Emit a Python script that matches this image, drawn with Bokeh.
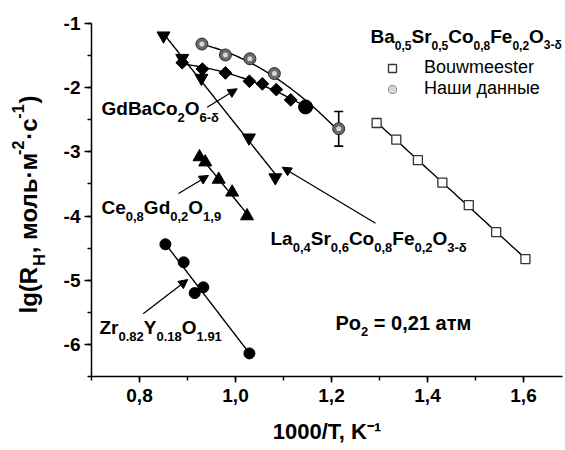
import numpy as np
from bokeh.plotting import figure
from bokeh.layouts import row, column
from bokeh.models import (ColumnDataSource, Label, Arrow, NormalHead, Whisker, TeeHead,
                          SingleIntervalTicker, CustomJSTickFormatter, Legend, LegendItem, Range1d)
from bokeh.embed import file_html
from bokeh.resources import INLINE

# ---------------- data ----------------
bouw_x = [1.294, 1.335, 1.380, 1.431, 1.486, 1.543, 1.604]
bouw_y = [-2.55, -2.81, -3.13, -3.48, -3.83, -4.25, -4.67]

bscf_x = [0.930, 0.979, 1.030, 1.081, 1.215]
bscf_y = [-1.32, -1.49, -1.55, -1.78, -2.64]
bscf_err = [0.0, 0.0, 0.0, 0.0, 0.27]

joint_x = [1.146]
joint_y = [-2.30]

gbco_x = [0.889, 0.931, 0.979, 1.029, 1.056, 1.085, 1.115]
gbco_y = [-1.61, -1.71, -1.77, -1.90, -1.94, -2.03, -2.19]

lscf_x = [0.850, 0.889, 0.929, 1.028, 1.083]
lscf_y = [-1.19, -1.54, -1.85, -2.78, -3.40]

cgo_x = [0.925, 0.937, 0.965, 0.993, 1.024]
cgo_y = [-3.08, -3.16, -3.43, -3.63, -4.00]

ysz_x = [0.854, 0.892, 0.915, 0.933, 1.029]
ysz_y = [-4.44, -4.72, -5.20, -5.11, -6.14]

x_title = "1000/T, K\u207b\u00b9"

# ---------------- layout ----------------
W, H = 565, 450
STRIP_L = 48          # left strip holding the y-axis title
L, R, T, B = 91, 3, 23, 74
X0 = 0.7
PX = 480.0
X1 = X0 + (W - L - R) / PX
Y0, Y1 = -6.5, -1.0
PY = (H - T - B) / (Y1 - Y0)


def dx(px):
    return X0 + (px - L) / PX


def dy(py):
    return Y1 - (py - T) / PY


def ident(v):
    return v


FONT = "Liberation Sans"
WID = {' ': 278, ',': 278, '.': 278, '-': 333, '/': 278, '(': 333, ')': 333, '=': 584,
       'A': 722, 'B': 722, 'C': 722, 'F': 611, 'G': 778, 'H': 722, 'K': 722, 'L': 611,
       'O': 778, 'P': 667, 'R': 722, 'S': 667, 'T': 611, 'Y': 667, 'Z': 611,
       'a': 556, 'd': 611, 'e': 556, 'g': 611, 'l': 278, 'o': 611, 'r': 389,
       'δ': 611, '·': 278, 'а': 556, 'т': 469, 'м': 708, 'о': 611, 'л': 615, 'ь': 583,
       'с': 556}
for c in "0123456789":
    WID[c] = 556


def tw(s, size):
    return sum(WID.get(c, 600) for c in s) * size / 1000.0


def rich(fig, fx, fy, px, pc, parts, size=19, small=13, sub=8.5, sup=-6.5,
         angle=0.0, bold=True, gap=0.0):
    """px: start along the text; pc: centre line of the main letters (pixels)."""
    x, y = float(px), float(pc)
    for s, kind in parts:
        fs = size if kind == 'n' else small
        lead = len(s) - len(s.lstrip(' '))
        adv = tw(' ' * lead, fs)
        if angle == 0:
            x += adv
        else:
            y -= adv
        s = s.lstrip(' ')
        shift = 0 if kind == 'n' else (sub if kind == 'sub' else sup)
        if angle == 0:
            lx, ly = x, y + shift
        else:
            lx, ly = x + shift, y
        fig.add_layout(Label(x=fx(lx), y=fy(ly), text=s, text_font=FONT,
                             text_font_size=f"{fs}px",
                             text_font_style="bold" if bold else "normal",
                             text_baseline="middle", text_align="left",
                             angle=angle, text_color="black"))
        w = tw(s, fs) + gap
        if angle == 0:
            x += w
        else:
            y -= w


p = figure(width=W - STRIP_L, height=H, output_backend="svg", toolbar_location=None,
           x_range=Range1d(X0, X1), y_range=Range1d(Y0, Y1),
           min_border_left=L - STRIP_L, min_border_right=R, min_border_top=T,
           min_border_bottom=B)
p.outline_line_color = None
p.grid.visible = False
p.background_fill_color = "white"
p.border_fill_color = "white"

# axes
for ax in (p.xaxis[0], p.yaxis[0]):
    ax.axis_line_width = 1.5
    ax.major_tick_line_width = 1.5
    ax.minor_tick_line_width = 1.5
    ax.major_tick_in = 0
    ax.minor_tick_in = 0
    ax.major_label_text_font = FONT
    ax.major_label_text_font_style = "bold"
    ax.major_label_text_font_size = "19px"
    ax.major_label_text_color = "black"
    ax.axis_line_color = "black"
    ax.major_tick_line_color = "black"
    ax.minor_tick_line_color = "black"

p.xaxis.ticker = SingleIntervalTicker(interval=0.2, num_minor_ticks=2)
p.yaxis.ticker = SingleIntervalTicker(interval=1.0, num_minor_ticks=2)
p.xaxis.formatter = CustomJSTickFormatter(code="return tick.toFixed(1).replace('.', ',');")
p.yaxis.formatter = CustomJSTickFormatter(code="return tick.toFixed(0);")
p.xaxis.major_tick_out = 6
p.xaxis.minor_tick_out = 4
p.yaxis.major_tick_out = 7
p.yaxis.minor_tick_out = 4
p.xaxis.major_label_standoff = 6
p.yaxis.major_label_standoff = 4
p.xaxis.axis_label = x_title
p.xaxis.axis_label_text_font = FONT
p.xaxis.axis_label_text_font_style = "bold"
p.xaxis.axis_label_text_font_size = "22px"
p.xaxis.axis_label_text_color = "black"
p.xaxis.axis_label_standoff = 14

# ---------------- fit lines ----------------
LW = 1.4


def fit_line(xs, ys, deg, x_lo=None, x_hi=None):
    c = np.polyfit(xs, ys, deg)
    lo = min(xs) if x_lo is None else x_lo
    hi = max(xs) if x_hi is None else x_hi
    xx = np.linspace(lo, hi, 60)
    p.line(xx, np.polyval(c, xx), line_color="black", line_width=LW)


fit_line(bouw_x, bouw_y, 1)
fit_line(bscf_x + joint_x, bscf_y + joint_y, 2)
fit_line(gbco_x + joint_x, gbco_y + joint_y, 2, x_lo=min(gbco_x) - 0.012)
fit_line(lscf_x, lscf_y, 1)
fit_line(cgo_x, cgo_y, 1)
fit_line(ysz_x, ysz_y, 1)

# error bar
idx = [i for i, e in enumerate(bscf_err) if e > 0]
err_src = ColumnDataSource(dict(x=[bscf_x[i] for i in idx],
                                up=[bscf_y[i] + bscf_err[i] for i in idx],
                                lo=[bscf_y[i] - bscf_err[i] for i in idx]))
p.add_layout(Whisker(source=err_src, base="x", upper="up", lower="lo", dimension="height",
                     line_width=1.6, line_color="black",
                     upper_head=TeeHead(size=9, line_width=1.6, line_color="black"),
                     lower_head=TeeHead(size=9, line_width=1.6, line_color="black")))

# ---------------- markers ----------------
r_bouw = p.scatter(bouw_x, bouw_y, marker="square", size=9, fill_color="white",
                   line_color="#333333", line_width=1.3)
p.scatter(gbco_x, gbco_y, marker="square", angle=np.pi / 4, size=9, fill_color="black",
          line_color="black")
p.scatter(lscf_x, lscf_y, marker="inverted_triangle", size=13, fill_color="black",
          line_color="black")
p.scatter(cgo_x, cgo_y, marker="triangle", size=13, fill_color="black", line_color="black")
p.scatter(ysz_x, ysz_y, marker="circle", size=11, fill_color="black", line_color="black")
p.scatter(joint_x, joint_y, marker="circle", size=14, fill_color="black", line_color="black")
r_s1 = p.scatter(bscf_x, bscf_y, marker="circle", size=12, fill_color="#6a6a6a",
                 line_color="#2a2a2a", line_width=1)
r_s2 = p.scatter(bscf_x, bscf_y, marker="circle", size=5, fill_color="#d6d6d6",
                 line_color=None)

# ---------------- legend ----------------
leg = Legend(items=[LegendItem(label="Bouwmeester", renderers=[r_bouw]),
                    LegendItem(label="Наши данные", renderers=[r_s1, r_s2])],
             location=(291, 277), margin=0, padding=0, spacing=0,
             glyph_width=20, glyph_height=20, label_height=20, label_standoff=22,
             label_text_font=FONT, label_text_font_size="18px", label_text_color="black",
             background_fill_alpha=0, border_line_alpha=0)
p.add_layout(leg)
rich(p, dx, dy, 370, 36, [("Ba", 'n'), ("0,5", 'sub'), ("Sr", 'n'), ("0,5", 'sub'), ("Co", 'n'),
                          ("0,8", 'sub'), ("Fe", 'n'), ("0,2", 'sub'), ("O", 'n'), ("3-δ", 'sub')],
     size=19, small=12)

# ---------------- annotations ----------------
rich(p, dx, dy, 101, 108, [("GdBaCo", 'n'), ("2", 'sub'), ("O", 'n'), ("6-δ", 'sub')])
rich(p, dx, dy, 101, 207, [("Ce", 'n'), ("0,8", 'sub'), ("Gd", 'n'), ("0,2", 'sub'), ("O", 'n'),
                           ("1,9", 'sub')])
rich(p, dx, dy, 270, 238, [("La", 'n'), ("0,4", 'sub'), ("Sr", 'n'), ("0,6", 'sub'), ("Co", 'n'),
                           ("0,8", 'sub'), ("Fe", 'n'), ("0,2", 'sub'), ("O", 'n'), ("3-δ", 'sub')])
rich(p, dx, dy, 99, 327, [("Zr", 'n'), ("0.82", 'sub'), ("Y", 'n'), ("0.18", 'sub'), ("O", 'n'),
                          ("1.91", 'sub')])
rich(p, dx, dy, 335, 322, [("Po", 'n'), ("2", 'sub'), (" = 0,21 атм", 'n')], size=20, small=13)

arrows = [((206.7, 106.7), (236.7, 88.3)),
          ((178, 193), (208, 175)),
          ((375, 222.7), (281.7, 166.7)),
          ((142.7, 313.3), (187.3, 279))]
for (tx, ty), (hx, hy) in arrows:
    p.add_layout(Arrow(x_start=dx(tx), y_start=dy(ty), x_end=dx(hx), y_end=dy(hy),
                       line_width=1.3, line_color="black",
                       end=NormalHead(size=9, fill_color="black", line_color="black")))

# ---------------- y-axis title strip ----------------
left = figure(width=STRIP_L, height=H, output_backend="svg", toolbar_location=None,
              x_range=Range1d(0, STRIP_L), y_range=Range1d(H, 0),
              x_axis_location=None, y_axis_location=None, min_border=0,
              min_border_left=0, min_border_right=0, min_border_top=0, min_border_bottom=0)
left.outline_line_color = None
left.grid.visible = False
left.background_fill_color = "white"
left.border_fill_color = "white"

rich(left, ident, ident, 28, 313, [("lg(R", 'n'), ("H", 'sub'), (", моль·м", 'n'), ("-2", 'sup'),
                                   ("·с", 'n'), ("-1", 'sup'), (")", 'n')],
     size=24, small=16, sub=11, sup=-11, angle=np.pi / 2, gap=1.0)

layout = row(left, column(p, spacing=0), spacing=0)
open("out.html", "w").write(file_html(layout, INLINE))
